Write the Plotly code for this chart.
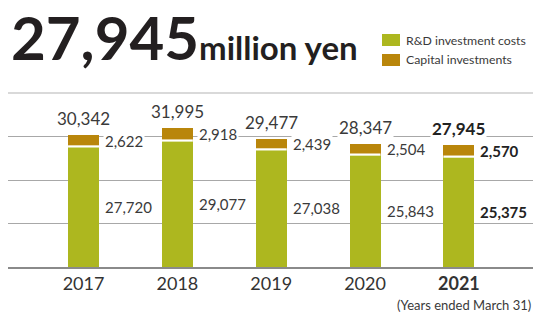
import plotly.graph_objects as go

years = ["2017", "2018", "2019", "2020", "2021"]
rd_costs = [27720, 29077, 27038, 25843, 25375]
capital = [2622, 2918, 2439, 2504, 2570]
totals = [30342, 31995, 29477, 28347, 27945]
series_names = ["R&D investment costs", "Capital investments"]
headline = "27,945"
unit = "million yen"
note = "(Years ended March 31)"

GREEN = "#adb71f"
BROWN = "#b9860b"
TXT = "#3a3a3a"
FONT = "Lato"
BW = 0.33

# plot area in pixels (for placing layout-only elements)
L, R, T, B = 8, 533, 93, 267
def px(x):
    return (x - L) / (R - L)
def py(y):
    return (B - y) / (B - T)

xs = list(range(len(years)))

fig = go.Figure()
fig.add_trace(go.Bar(x=xs, y=rd_costs, name=series_names[0], marker=dict(color=GREEN, line=dict(width=0)),
                     width=BW, hoverinfo="skip", showlegend=False))
fig.add_trace(go.Bar(x=xs, y=capital, name=series_names[1], marker=dict(color=BROWN, line=dict(width=0)),
                     width=BW, hoverinfo="skip", showlegend=False))

# white separator between stacked segments
sx, sy = [], []
for i, v in zip(xs, rd_costs):
    sx += [i - BW / 2, i + BW / 2, None]
    sy += [v, v, None]
fig.add_trace(go.Scatter(x=sx, y=sy, mode="lines", line=dict(color="white", width=2.2),
                         showlegend=False, hoverinfo="skip"))

ann = []
last = len(years) - 1
for i in xs:
    bold = i == last
    w = (lambda s: f"<b>{s}</b>") if bold else (lambda s: s)
    col = "#222222" if bold else TXT
    ann.append(dict(x=i, y=totals[i], text=w(f"{totals[i]:,}"), showarrow=False, xanchor="center",
                    yanchor="bottom", yshift=4, font=dict(family=FONT, size=17, color=col),
                    bgcolor="white", borderpad=1))
    ann.append(dict(x=i + BW / 2, y=rd_costs[i] + capital[i] / 2, text=w(f"{capital[i]:,}"), showarrow=False,
                    xanchor="left", yanchor="middle", xshift=4, font=dict(family=FONT, size=15, color=col),
                    bgcolor="white", borderpad=1))
    ann.append(dict(x=i + BW / 2, y=rd_costs[i] / 2, text=w(f"{rd_costs[i]:,}"), showarrow=False,
                    xanchor="left", yanchor="middle", xshift=4, font=dict(family=FONT, size=15, color=col),
                    bgcolor="white", borderpad=1))

# headline
ann.append(dict(xref="paper", yref="paper", x=px(9), y=py(75), xanchor="left", yanchor="bottom", showarrow=False,
                text=f"<b>{headline}</b><span style='font-size:33px;font-weight:bold'>{unit}</span>",
                font=dict(family=FONT, size=60, color="#231f20")))
# note
ann.append(dict(xref="paper", yref="paper", x=1.0, y=py(305), xanchor="right", yanchor="middle", showarrow=False,
                text=note, font=dict(family=FONT, size=13, color=TXT)))

# legend (drawn)
shapes = [dict(type="line", xref="paper", yref="paper", x0=0, x1=1, y0=1, y1=1,
               line=dict(color="#d9d9d9", width=2))]
for k, (nm, col, cy) in enumerate(zip(series_names, [GREEN, BROWN], [40, 60])):
    shapes.append(dict(type="rect", xref="paper", yref="paper", x0=px(382), x1=px(400),
                       y0=py(cy - 6), y1=py(cy + 6), fillcolor=col, line=dict(width=0)))
    ann.append(dict(xref="paper", yref="paper", x=px(404), y=py(cy), xanchor="left", yanchor="middle",
                    showarrow=False, text=nm, font=dict(family=FONT, size=12.3, color=TXT)))

ticktext = [f"<b>{y}</b>" if i == last else y for i, y in enumerate(years)]

fig.update_layout(
    width=536, height=314,
    margin=dict(l=L, r=536 - R, t=T, b=314 - B, autoexpand=False),
    barmode="stack",
    bargap=0,
    plot_bgcolor="white", paper_bgcolor="white",
    font=dict(family=FONT, color=TXT),
    annotations=ann,
    shapes=shapes,
    showlegend=False,
)
fig.update_xaxes(range=[-0.805, 4.79], tickvals=xs, ticktext=ticktext, showgrid=False, zeroline=False,
                 showline=True, linecolor="#8a8a8a", linewidth=1.5, ticks="",
                 tickfont=dict(family=FONT, size=18, color="#333333"), fixedrange=True)
fig.update_yaxes(range=[0, 40000], tickvals=[10000, 20000, 30000], showticklabels=False, showgrid=True,
                 gridcolor="#a8a8a8", gridwidth=1, zeroline=False, fixedrange=True)

fig.write_html("out.html", config={"displayModeBar": False},
               post_script="document.body.style.margin='0';document.body.style.overflow='hidden';")
